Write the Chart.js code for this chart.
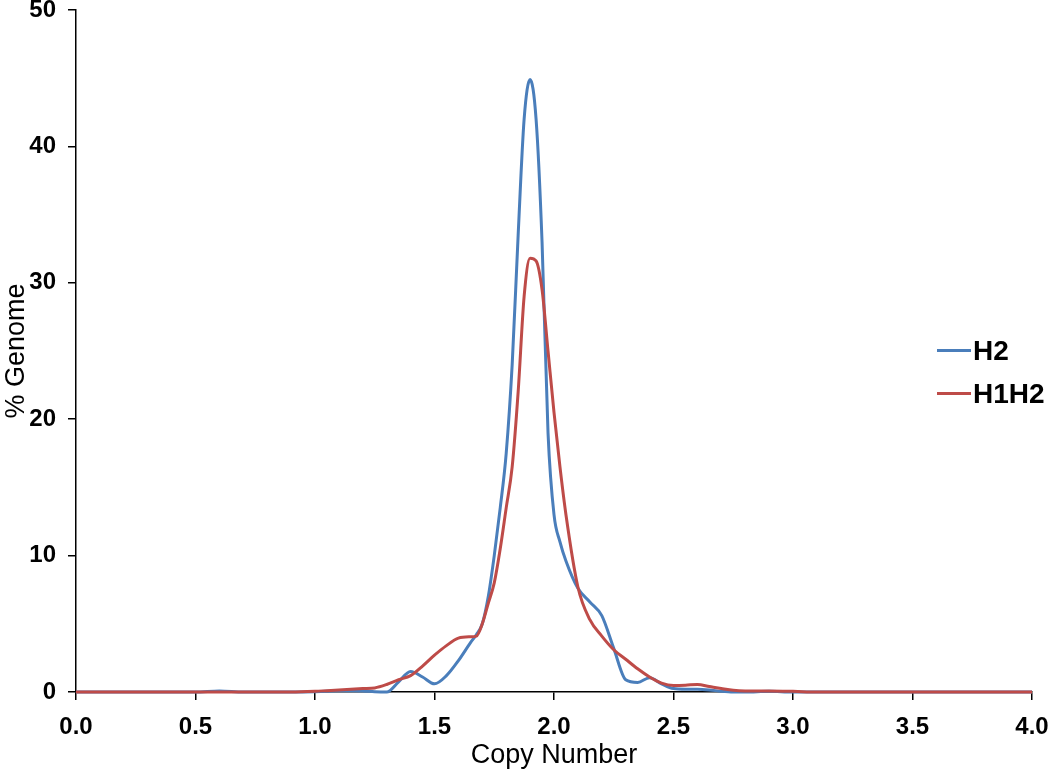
<!DOCTYPE html>
<html lang="en">
<head>
  <meta charset="UTF-8">
  <title>% Genome vs Copy Number</title>
  <script src="https://cdn.jsdelivr.net/npm/chart.js"></script>
  <style>
    body {
      margin: 0;
      background: #fff;
      font-family: Arial, "Liberation Sans", sans-serif;
    }
    #wrap {
      position: relative;
      width: 1050px;
      height: 772px;
    }
    #legend {
      position: absolute;
      left: 937px;
      top: 329px;
      font-weight: bold;
      font-size: 28px;
      color: #000;
    }
    .item {
      display: flex;
      align-items: center;
      height: 43px;
    }
    .swatch {
      width: 34px;
      height: 3px;
      margin-right: 2px;
    }
  </style>
</head>
<body>
  <div id="wrap">
    <canvas id="chart"></canvas>
    <div id="legend">
      <div class="item"><span class="swatch" style="background:#4A7EBB"></span>H2</div>
      <div class="item"><span class="swatch" style="background:#BE4B48"></span>H1H2</div>
    </div>
  </div>

  <script>
    // copy number values (x)
    const copyNumber = [0, 0.5, 0.6, 0.7, 0.9,
      1.0, 1.05, 1.1, 1.15, 1.2, 1.25, 1.3, 1.35, 1.4, 1.45,
      1.5, 1.55, 1.6, 1.65, 1.675, 1.7, 1.725, 1.75, 1.775, 1.8,
      1.825, 1.85, 1.875, 1.9, 1.925, 1.95, 1.975, 2.0, 2.025, 2.05,
      2.1, 2.15, 2.2, 2.25, 2.3, 2.35, 2.4, 2.45, 2.5, 2.55,
      2.6, 2.65, 2.7, 2.75, 2.8, 2.9, 3.0, 3.1, 3.5, 4.0];

    // % genome, H2
    const h2 = [0, 0, 0.08, 0, 0,
      0.02, 0.05, 0.1, 0.1, 0.08, 0.02, 0.0, 0.75, 1.5, 1.1,
      0.6, 1.2, 2.3, 3.6, 4.2, 5.0, 7.0, 10.0, 13.5, 17.5,
      24, 33.5, 42, 44.9, 42, 33, 19, 13, 11, 9.6,
      7.6, 6.6, 5.6, 3.2, 0.9, 0.7, 1.05, 0.6, 0.25, 0.2,
      0.2, 0.15, 0.05, 0, 0, 0.05, 0, 0, 0, 0];

    // % genome, H1H2
    const h1h2 = [0, 0, 0, 0, 0,
      0.05, 0.1, 0.15, 0.2, 0.25, 0.3, 0.55, 0.9, 1.2, 1.9,
      2.7, 3.4, 3.95, 4.05, 4.1, 5.0, 6.5, 8.0, 10.5, 13.5,
      16.5, 22, 29, 31.8, 31.6, 29.5, 25, 20.5, 16.5, 13,
      7.7, 5.3, 4.1, 3.1, 2.4, 1.7, 1.1, 0.65, 0.48, 0.5,
      0.55, 0.4, 0.25, 0.12, 0.08, 0.08, 0.05, 0, 0, 0];

    const xTicks = [0, 0.5, 1, 1.5, 2, 2.5, 3, 3.5, 4];
    const yTicks = [0, 10, 20, 30, 40, 50];

    const pts = vals => vals.map((v, i) => ({ x: copyNumber[i], y: v }));

    const tickFont = { family: '"Liberation Sans Narrow", "Arial Narrow", Arial', size: 24, weight: 'bold' };
    const titleFont = { family: 'Arial, "Liberation Sans"', size: 27 };

    new Chart(document.getElementById('chart'), {
      type: 'line',
      data: {
        datasets: [
          {
            label: 'H2',
            data: pts(h2),
            borderColor: '#4A7EBB',
            borderWidth: 3,
            pointRadius: 0,
            cubicInterpolationMode: 'monotone',
            clip: false,
            order: 1
          },
          {
            label: 'H1H2',
            data: pts(h1h2),
            borderColor: '#BE4B48',
            borderWidth: 3,
            pointRadius: 0,
            cubicInterpolationMode: 'monotone',
            clip: false,
            order: 0
          }
        ]
      },
      options: {
        responsive: true,
        maintainAspectRatio: false,
        animation: false,
        layout: { padding: { top: 10, right: 18, left: 0, bottom: 0 } },
        plugins: {
          legend: { display: false },
          tooltip: { enabled: false }
        },
        scales: {
          x: {
            type: 'linear',
            min: 0,
            max: 4,
            afterBuildTicks: s => { s.ticks = xTicks.map(v => ({ value: v })); },
            afterFit: s => { s.height = 80; s.paddingLeft = 0; s.paddingRight = 0; },
            ticks: {
              color: '#000',
              font: tickFont,
              padding: 13,
              maxRotation: 0,
              callback: v => v.toFixed(1)
            },
            grid: { drawOnChartArea: false, color: '#000', lineWidth: 1.5, tickLength: 8 },
            border: { color: '#000', width: 1.5 },
            title: { display: true, text: 'Copy Number', color: '#000', font: titleFont, padding: { top: 0, bottom: 0 } }
          },
          y: {
            min: 0,
            max: 50,
            afterBuildTicks: s => { s.ticks = yTicks.map(v => ({ value: v })); },
            afterFit: s => { s.width = 76; s.paddingTop = 0; s.paddingBottom = 0; },
            ticks: { color: '#000', font: tickFont, padding: 12 },
            grid: { drawOnChartArea: false, color: '#000', lineWidth: 1.5, tickLength: 8 },
            border: { color: '#000', width: 1.5 },
            title: { display: true, text: '% Genome', color: '#000', font: titleFont, padding: { top: 0, bottom: 0 } }
          }
        }
      }
    });
  </script>
</body>
</html>
